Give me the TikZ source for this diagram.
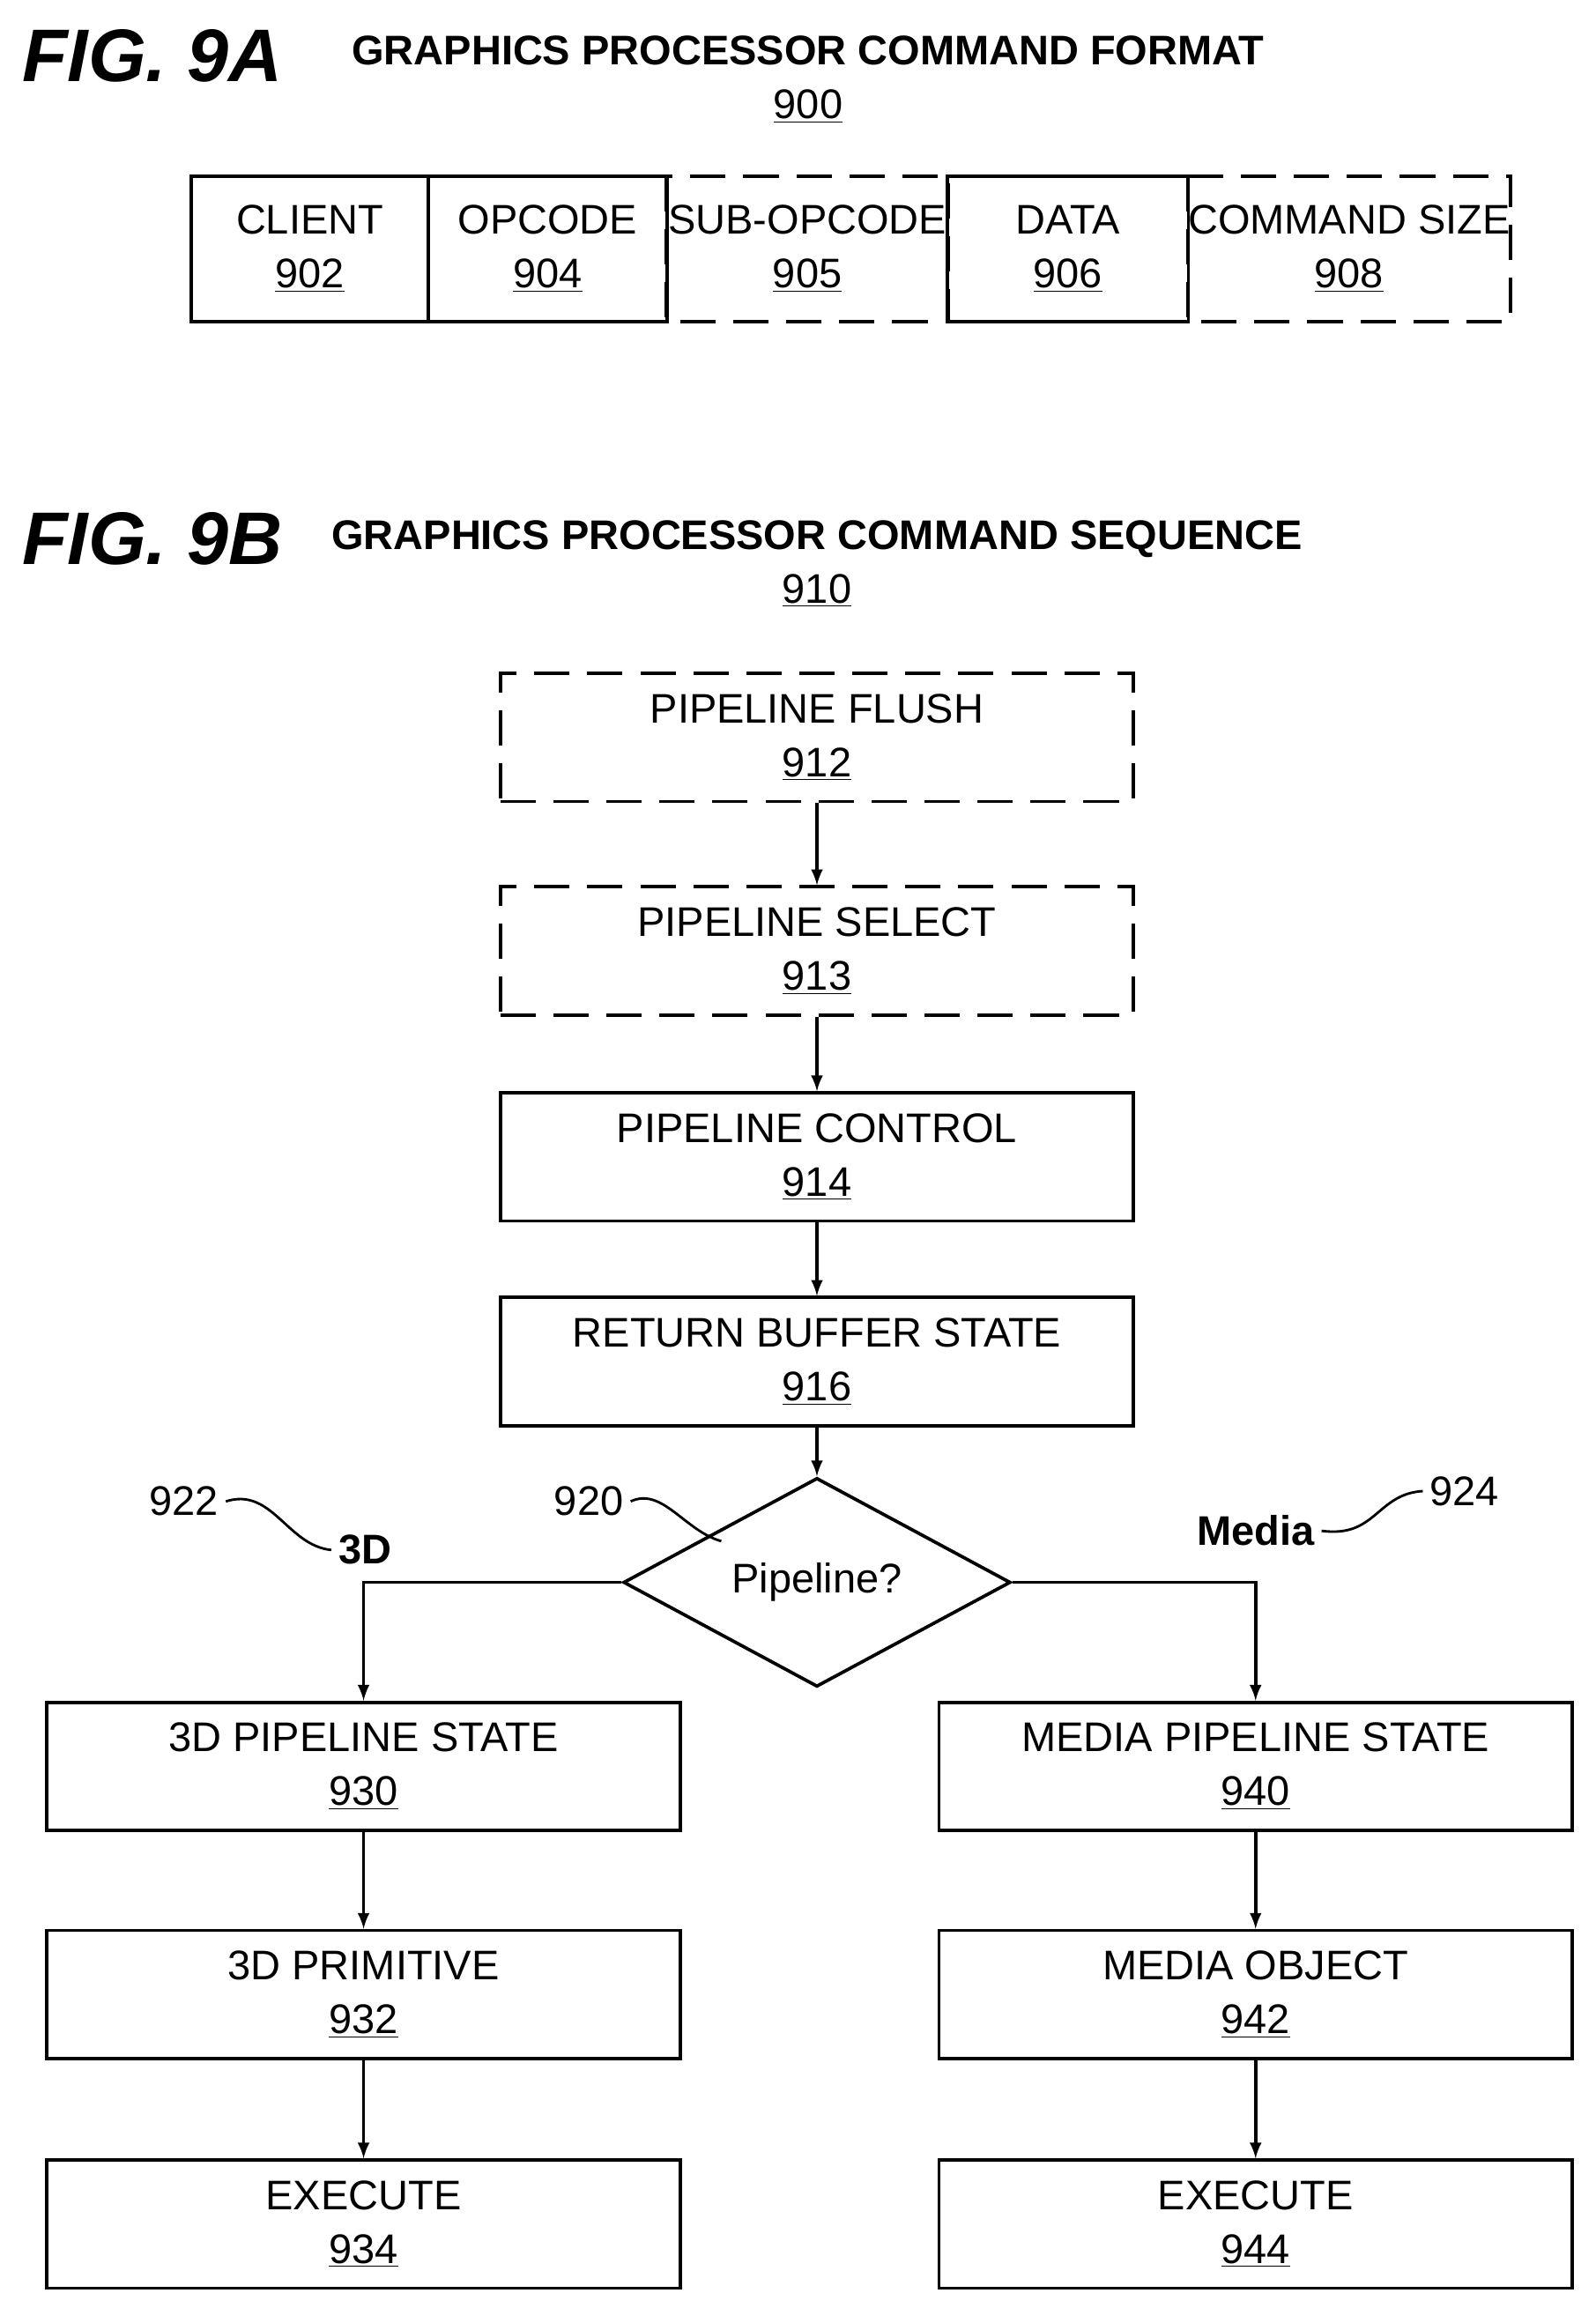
\documentclass[tikz,border=0pt]{standalone}
\usepackage{fontspec}
\setmainfont{Liberation Sans}
\usetikzlibrary{positioning,shapes.geometric}
\tikzset{block/.style={draw,line width=1.6pt,minimum width=10.75cm,minimum height=2.175cm,align=center,font=\fontsize{20}{26}\selectfont},
         field/.style={minimum height=2.45cm,align=center,inner sep=0pt,font=\fontsize{20}{26}\selectfont},
         dashedbox/.style={dash pattern=on 0.6cm off 0.3cm},
         line/.style={-latex,line width=1.6pt},
         squig/.style={line width=1.2pt},
         num/.style={font=\fontsize{20}{24}\selectfont},
         title/.style={font=\bfseries\fontsize{20}{26}\selectfont,align=center},
         fig/.style={font=\bfseries\itshape\fontsize{36}{40}\selectfont}
}
\begin{document}
\begin{tikzpicture}[x=0.025cm,y=-0.025cm]
  \useasboundingbox (0,0) rectangle (1084,1568);
  % FIG. 9A
  \node[fig,anchor=west] (f9a) at (10,38) {FIG. 9A};
  \node[title] (t900) at (549,54) {GRAPHICS PROCESSOR COMMAND FORMAT\\\mdseries\underline{900}};
  \node[field,minimum width=4.025cm] (client) at (210.5,169) {CLIENT\\\underline{902}};
  \node[field,minimum width=4.05cm] (opcode) at (372,169) {OPCODE\\\underline{904}};
  \node[field,minimum width=4.775cm] (subop) at (548.5,169) {SUB-OPCODE\\\underline{905}};
  \node[field,minimum width=4.075cm] (data) at (725.5,169) {DATA\\\underline{906}};
  \node[field,minimum width=5.475cm] (size) at (916.5,169) {COMMAND SIZE\\\underline{908}};
  \draw[line width=1.6pt,dashedbox] (subop.north west) rectangle (subop.south east);
  \draw[line width=1.6pt,dashedbox] (size.north west) rectangle (size.south east);
  \draw[line width=1.6pt] (client.north west) rectangle (client.south east);
  \draw[line width=1.6pt] (opcode.north west) rectangle (opcode.south east);
  \draw[line width=1.6pt] (data.north west) rectangle (data.south east);
  % FIG. 9B
  \node[fig,anchor=west] (f9b) at (10,366) {FIG. 9B};
  \node[title] (t910) at (555,383) {GRAPHICS PROCESSOR COMMAND SEQUENCE\\\mdseries\underline{910}};
  \node[block,dashedbox] (flush) at (555,501) {PIPELINE FLUSH\\\underline{912}};
  \node[block,dashedbox] (select) at (555,646) {PIPELINE SELECT\\\underline{913}};
  \node[block] (control) at (555,786) {PIPELINE CONTROL\\\underline{914}};
  \node[block] (ret) at (555,925) {RETURN BUFFER STATE\\\underline{916}};
  \node[diamond,draw,line width=1.6pt,minimum width=6.575cm,minimum height=2.55cm,inner sep=0pt,font=\fontsize{20}{24}\selectfont] (pipe) at (555,1075) {Pipeline?};
  \node[block] (s3d) at (247,1200) {3D PIPELINE STATE\\\underline{930}};
  \node[block] (p3d) at (247,1355) {3D PRIMITIVE\\\underline{932}};
  \node[block] (e3d) at (247,1511) {EXECUTE\\\underline{934}};
  \node[block] (smed) at (853,1200) {MEDIA PIPELINE STATE\\\underline{940}};
  \node[block] (omed) at (853,1355) {MEDIA OBJECT\\\underline{942}};
  \node[block] (emed) at (853,1511) {EXECUTE\\\underline{944}};

  \draw[line] (flush) -- (select);
  \draw[line] (select) -- (control);
  \draw[line] (control) -- (ret);
  \draw[line] (ret) -- (pipe);
  \draw[line] (pipe.west) -| (s3d);
  \draw[line] (pipe.east) -| (smed);
  \draw[line] (s3d) -- (p3d);
  \draw[line] (p3d) -- (e3d);
  \draw[line] (smed) -- (omed);
  \draw[line] (omed) -- (emed);

  % labels
  \node[num] (n922) at (125,1020) {922};
  \node[font=\bfseries\fontsize{20}{24}\selectfont] (l3d) at (248,1053) {3D};
  \node[num] (n920) at (400,1020) {920};
  \node[font=\bfseries\fontsize{20}{24}\selectfont] (lmed) at (853,1040) {Media};
  \node[num] (n924) at (995,1013) {924};
  \draw[squig] (n922.east) .. controls (185,1010) and (195,1050) .. (l3d.west);
  \draw[squig] (n920.east) .. controls (450,1010) and (465,1040) .. (490,1047);
  \draw[squig] (lmed.east) .. controls (935,1045) and (935,1015) .. (n924.west);
\end{tikzpicture}
\end{document}
